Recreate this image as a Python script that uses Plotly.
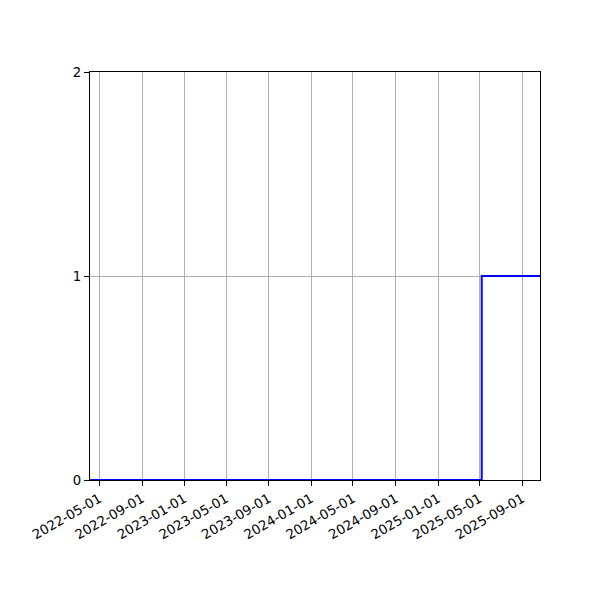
import plotly.graph_objects as go

# Datos del escalón (0 hasta mayo 2025, luego 1)
fechas = ["2022-04-04", "2025-05-07", "2025-10-22"]
valores = [0, 1, 1]

# Ticks del eje x
x_ticks = ["2022-05-01", "2022-09-01", "2023-01-01", "2023-05-01", "2023-09-01",
           "2024-01-01", "2024-05-01", "2024-09-01", "2025-01-01", "2025-05-01",
           "2025-09-01"]
y_ticks = [0, 1, 2]

fig = go.Figure(go.Scatter(
    x=fechas,
    y=valores,
    mode="lines",
    line=dict(color="blue", width=2, shape="hv"),
))

eje = dict(
    showline=True, linecolor="black", linewidth=1, mirror=True,
    ticks="outside", ticklen=5, tickcolor="black",
    showgrid=True, gridcolor="#b0b0b0", gridwidth=1,
    zeroline=False,
    tickfont=dict(family="DejaVu Sans", size=13.3, color="black"),
)

fig.update_layout(
    width=600, height=600,
    margin=dict(l=82, r=68, t=64, b=128),
    plot_bgcolor="white", paper_bgcolor="white",
    showlegend=False,
    xaxis=dict(eje, type="date", range=["2022-04-04", "2025-10-22"],
               tickvals=x_ticks, ticktext=x_ticks, tickangle=-30),
    yaxis=dict(eje, range=[0, 2], tickvals=y_ticks),
)

fig.write_html("out.html")
